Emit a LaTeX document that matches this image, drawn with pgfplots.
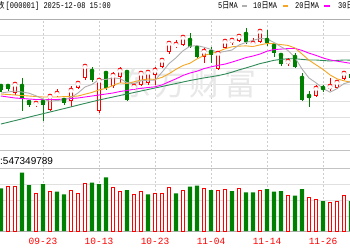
\documentclass[border=0pt]{standalone}
\usepackage{pgfplots}
\pgfplotsset{compat=1.18}
\usepackage{pgfplotstable}
\usepackage{graphicx}
\usepackage{fontspec}
\setmainfont{Liberation Sans}
\newfontfamily\mono{Liberation Mono}
\newfontfamily\cjk{Noto Sans CJK SC}
\definecolor{kred}{RGB}{255,0,0}
\definecolor{kgreen}{RGB}{0,128,0}
\definecolor{maA}{RGB}{175,175,175}
\definecolor{maB}{RGB}{245,166,35}
\definecolor{maC}{RGB}{255,0,255}
\definecolor{maD}{RGB}{46,139,87}
\definecolor{gridc}{RGB}{224,224,224}
\definecolor{gridm}{RGB}{195,195,195}
\definecolor{gridd}{RGB}{175,175,175}
\definecolor{dashc}{RGB}{205,205,205}
\definecolor{wm}{RGB}{232,232,232}

% red (rising) candles: index, open, high, low, close
\pgfplotstableread{
x o h l c
2 3875 3902.5 3870 3897.5
5 3845 3855 3840 3850
7 3832.5 3872.5 3830 3867.5
8 3872.5 3885 3865 3875
10 3855 3892.5 3840 3882.5
11 3887.5 3902.5 3885 3900
12 3912.5 3947.5 3907.5 3942.5
14 3830 3912.5 3825 3907.5
16 3892.5 3927.5 3887.5 3920
17 3915 3940 3900 3932.5
19 3887.5 3897.5 3882.5 3892.5
20 3895 3927.5 3892.5 3925
21 3900 3932.5 3895 3927.5
22 3920 3940 3895 3932.5
23 3940 3962.5 3937.5 3957.5
24 3977.5 4002.5 3972.5 4000
25 3992.5 4007.5 3987.5 3997.5
26 3995 4017.5 3992.5 4015
29 3965 3987.5 3950 3980
31 3935 3977.5 3932.5 3975
32 3987.5 4007.5 3985 4005
33 4000 4012.5 3995 4007.5
34 4005 4020 4002.5 4017.5
36 3997.5 4012.5 3990 4000
37 4002.5 4032.5 4000 4030
41 3947.5 3962.5 3942.5 3955
45 3867.5 3895 3865 3887.5
47 3885 3912.5 3880 3892.5
48 3887.5 3905 3885 3902.5
49 3910 3927.5 3907.5 3925
}\redc

% green (falling) candles
\pgfplotstableread{
x o h l c
0 3892.5 3897.5 3877.5 3882.5
1 3892.5 3895 3880 3885
3 3892.5 3912.5 3830 3862.5
4 3852.5 3857.5 3840 3845
6 3852.5 3857.5 3805 3845
9 3857.5 3860 3845 3850
13 3930 3940 3902.5 3907.5
15 3925 3930 3882.5 3887.5
18 3927.5 3932.5 3855 3857.5
27 4007.5 4025 3987.5 3990
28 3987.5 3990 3962.5 3965
30 3977.5 3990 3950 3970
35 4022.5 4037.5 3997.5 4002.5
38 4007.5 4032.5 3992.5 4000
39 3992.5 3995 3965 3975
40 3970 3975 3942.5 3947.5
42 3965 3975 3937.5 3940
43 3912.5 3925 3855 3857.5
44 3867.5 3880 3840 3862.5
46 3887.5 3895 3877.5 3885
50 3922.5 3927.5 3907.5 3912.5
}\greenc

% moving averages
\pgfplotstableread{
x m5 m10 m20 m30
0 3875 3872.5 3867.5 3797.5
1 3877.5 3871.25 3865 3801.75
2 3880 3870 3862.5 3806
3 3877.5 3868.75 3861.25 3810.25
4 3874.5 3867.5 3860 3814.75
5 3868 3866.25 3858.75 3819
6 3860 3865 3858.75 3823.25
7 3854 3865 3858.75 3827.5
8 3856.5 3865 3858.75 3831.75
9 3857.5 3866 3860 3836
10 3864 3866 3861.25 3840.25
11 3875 3867.5 3862.5 3844.75
12 3890 3872 3865 3849
13 3896.5 3876.5 3867.5 3853.25
14 3908 3882.75 3870 3857.5
15 3909 3886.5 3872.5 3861.25
16 3913 3894 3875 3865
17 3911 3900.5 3878.75 3868.75
18 3901 3898.75 3881.25 3872.5
19 3898 3903 3884.5 3876.25
20 3905.5 3907.25 3886.6 3880
21 3907 3910 3888.75 3883.75
22 3907 3909 3890.5 3887.5
23 3927 3914 3895.25 3891.25
24 3948.5 3923.25 3903 3895
25 3963 3934.25 3910.4 3898.75
26 3980.5 3943.75 3918.9 3902.5
27 3992 3949.5 3925 3906.25
28 3993.5 3960.25 3929.5 3909.5
29 3989.5 3969 3936 3912.75
30 3984 3973.5 3940.4 3915.5
31 3976 3978.25 3944.1 3918.5
32 3979 3985.5 3947.25 3922.25
33 3982.5 3990.5 3952.25 3927
34 3995 3992.25 3957.75 3932.75
35 4001.5 3992.75 3963.5 3937.75
36 4006.5 3991.25 3967.5 3943
37 4011.5 3995.25 3972.4 3948.5
38 4010 3998.75 3979.5 3952.5
39 4001.5 3998.25 3983.6 3956.75
40 3990.5 3996 3984.75 3959
41 3981.5 3994 3986.1 3960.75
42 3963.5 3987.5 3986.5 3960.75
43 3935 3972.5 3981.5 3959
44 3912.5 3957 3974.6 3957.5
45 3900.5 3945.5 3969.1 3957.5
46 3886.5 3934 3962.6 3956.25
47 3877 3920.25 3957.75 3955
48 3886 3910.5 3954.6 3956.5
49 3898.5 3905.5 3951.9 3957.5
50 3903.5 3902 3949 3957.25
}\matab

% volume (millions), red = up day, green = down day
\pgfplotstableread{
x v
1 665
2 665
5 565
7 600
10 615
11 565
12 715
16 650
17 600
19 550
20 600
22 560
23 570
24 650
26 615
29 640
31 615
32 625
34 640
37 615
41 530
44 510
45 480
47 430
48 450
49 530
}\redv

\pgfplotstableread{
x v
0 640
3 875
4 690
6 705
8 590
9 550
13 725
14 705
15 805
18 615
21 550
25 565
27 665
28 680
30 615
33 600
35 580
36 580
38 630
39 590
40 600
42 530
43 630
46 450
50 450
}\greenv

\begin{document}
\begin{tikzpicture}
\useasboundingbox (0pt,0pt) rectangle (350pt,250pt);
\clip (0pt,0pt) rectangle (350pt,250pt);
\fill[white] (0pt,0pt) rectangle (350pt,250pt);

% horizontal grid lines
\foreach \yy in {214.55,198.1,181.65,165.2,148.75,132.3,115.85}
  \draw[gridc, line width=1pt] (0pt,\yy pt) -- (350pt,\yy pt);
\foreach \yy in {66,49.5,33.5}
  \draw[gridc, line width=1pt] (0pt,\yy pt) -- (350pt,\yy pt);
\draw[gridd, line width=1pt] (0pt,231pt) -- (350pt,231pt);
\draw[gridm, line width=1pt] (0pt,99.4pt) -- (350pt,99.4pt);
\draw[gridm, line width=1pt] (0pt,82pt) -- (350pt,82pt);
\draw[gridd, line width=1pt] (0pt,19pt) -- (350pt,19pt);

% dashed vertical lines
\foreach \xx in {43,99,155,211,267,323}
  \draw[dashc, line width=1pt, dash pattern=on 2pt off 2pt] (\xx pt,19pt) -- (\xx pt,231pt);

% watermark
\node[text=wm, inner sep=0pt] at (135pt,167pt) {\fontsize{32}{32}\cjk 东};
\node[text=wm, inner sep=0pt] at (170pt,167pt) {\fontsize{32}{32}\cjk 方};
\node[text=wm, inner sep=0pt] at (205pt,167pt) {\fontsize{32}{32}\cjk 财};
\node[text=wm, inner sep=0pt] at (240pt,167pt) {\fontsize{32}{32}\cjk 富};

% price pane
\begin{axis}[
  at={(0pt,99.4pt)}, anchor=south west,
  scale only axis, width=350pt, height=131.6pt,
  xmin=-0.142857, xmax=49.857143,
  ymin=3731, ymax=4060,
  axis line style={draw=none}, ticks=none,
  clip=true,
]
% red candles: wick, body outline, white inside
\addplot[kred, only marks, mark=none,
  error bars/.cd, y dir=both, y explicit, error mark=none,
  error bar style={line width=1pt, kred}]
  table[x=x, y=c, y error plus expr=\thisrow{h}-\thisrow{c}, y error minus expr=\thisrow{c}-\thisrow{l}] {\redc};
\addplot[kred, only marks, mark=none,
  error bars/.cd, y dir=minus, y explicit, error mark=none,
  error bar style={line width=4.4pt, kred}]
  table[x=x, y=c, y error minus expr=\thisrow{c}-\thisrow{o}] {\redc};
\addplot[white, only marks, mark=none,
  error bars/.cd, y dir=minus, y explicit, error mark=none,
  error bar style={line width=2.4pt, white}]
  table[x=x, y expr=\thisrow{c}-2.5, y error minus expr={max(\thisrow{c}-\thisrow{o}-5,0)}] {\redc};
% green candles
\addplot[kgreen, only marks, mark=none,
  error bars/.cd, y dir=both, y explicit, error mark=none,
  error bar style={line width=1pt, kgreen}]
  table[x=x, y=o, y error plus expr=\thisrow{h}-\thisrow{o}, y error minus expr=\thisrow{o}-\thisrow{l}] {\greenc};
\addplot[kgreen, only marks, mark=none,
  error bars/.cd, y dir=minus, y explicit, error mark=none,
  error bar style={line width=4.4pt, kgreen}]
  table[x=x, y=o, y error minus expr=\thisrow{o}-\thisrow{c}] {\greenc};
% moving averages
\addplot[maD, line width=0.9pt, mark=none] table[x=x, y=m30] {\matab};
\addplot[maC, line width=0.9pt, mark=none] table[x=x, y=m20] {\matab};
\addplot[maB, line width=0.9pt, mark=none] table[x=x, y=m10] {\matab};
\addplot[maA, line width=0.9pt, mark=none] table[x=x, y=m5] {\matab};
\end{axis}

% volume pane
\begin{axis}[
  at={(0pt,19pt)}, anchor=south west,
  scale only axis, width=350pt, height=63pt,
  xmin=-0.142857, xmax=49.857143,
  ymin=0, ymax=945,
  axis line style={draw=none}, ticks=none,
  clip=true,
]
\addplot[ybar, bar width=3.4pt, bar shift=0pt, draw=kred, fill=white, line width=0.9pt] table[x=x, y=v] {\redv};
\addplot[ybar, bar width=4.2pt, bar shift=0pt, draw=none, fill=kgreen] table[x=x, y=v] {\greenv};
\end{axis}

% date labels
\foreach \xx/\dd in {43/09-23,99/10-13,155/10-23,211/11-04,267/11-14,323/11-26}
  \node[text=kred, inner sep=0pt, anchor=center, font=\fontsize{9.5}{9.5}\mono] at (\xx pt,9pt) {\dd};

% header texts
\node[anchor=base east, inner sep=0pt] at (4.8pt,241.5pt) {\fontsize{8.5}{8.5}\cjk 上证指数};
\node[anchor=base west, inner sep=0pt] at (5.5pt,241.5pt) {\scalebox{0.875}[1.1]{\fontsize{8}{8}\mono [000001] 2025-12-08 15:00}};
\node[anchor=base west, inner sep=0pt] at (218pt,241.5pt) {\scalebox{0.875}[1.1]{\fontsize{8}{8}\mono 5{\cjk 日}MA}};
\fill[maA] (242pt,243pt) rectangle (247pt,245pt);
\node[anchor=base west, inner sep=0pt] at (253pt,241.5pt) {\scalebox{0.875}[1.1]{\fontsize{8}{8}\mono 10{\cjk 日}MA}};
\fill[maB] (283pt,243pt) rectangle (288pt,245pt);
\node[anchor=base west, inner sep=0pt] at (295pt,241.5pt) {\scalebox{0.875}[1.1]{\fontsize{8}{8}\mono 20{\cjk 日}MA}};
\fill[maC] (324pt,243pt) rectangle (330pt,245pt);
\node[anchor=base west, inner sep=0pt] at (338pt,241.5pt) {\scalebox{0.875}[1.1]{\fontsize{8}{8}\mono 30{\cjk 日}MA}};
% volume header
\node[anchor=base west, inner sep=0pt] at (0pt,85.5pt) {\fontsize{10}{10}\selectfont :547349789};
\end{tikzpicture}
\end{document}
